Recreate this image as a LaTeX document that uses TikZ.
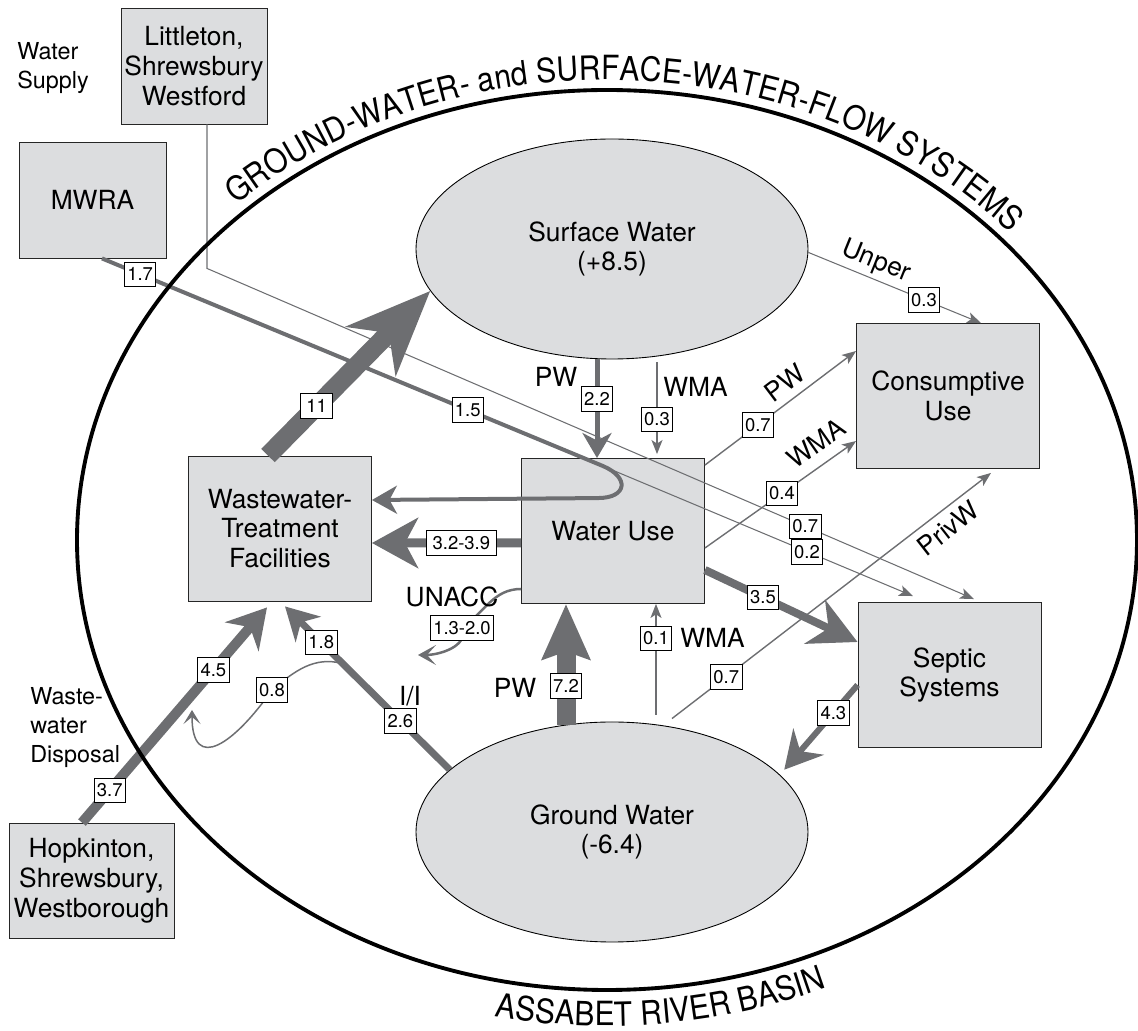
\documentclass[tikz,border=0pt]{standalone}
\usepackage{fontspec}
\setmainfont{TeX Gyre Heros}
\newfontfamily\arcfont[FakeStretch=0.9]{TeX Gyre Heros}
\usetikzlibrary{arrows.meta,shapes.geometric,decorations.text}
\definecolor{flowgray}{HTML}{6D6E71}
\definecolor{boxgray}{HTML}{DCDDDF}

\begin{document}
\begin{tikzpicture}[x=0.2mm, y=0.2mm,
	every node/.style={inner sep=0pt, font=\fontsize{15}{17}\selectfont},
	box/.style={draw=black!85, fill=boxgray, line width=0.5pt, align=center, minimum width=36.6mm, minimum height=29mm},
	pool/.style={ellipse, draw=black, fill=boxgray, line width=0.5pt, align=center, minimum width=78.4mm, minimum height=44mm},
	val/.style={draw=black, fill=white, line width=0.45pt, inner xsep=1.6pt, minimum width=18pt, minimum height=14pt, font=\fontsize{10.5}{12}\selectfont},
	side/.style={anchor=west, align=left, font=\fontsize{13.3}{16.5}\selectfont},
	flow/.style n args={4}{draw=flowgray, line width=#1, -{Stealth[length=#2, width=#3, inset=#4]}},
	minor/.style={draw=flowgray, line width=0.8pt, -{Stealth[length=2.8mm, width=2.2mm, inset=0.7mm]}},
	wig/.style={draw=flowgray, line width=0.5mm, -{Stealth[length=3.6mm, width=4mm, inset=1.8mm]}},
	eddy/.style={draw=flowgray, line width=0.3mm, -{Stealth[length=2.8mm, width=3.4mm, inset=1.4mm]}}]
	\useasboundingbox (0,0) rectangle (1138,-1031);

	\node [pool] (sw) at (612,-249) {Surface Water\\(+8.5)};
	\node [pool] (gw) at (612,-832) {Ground Water\\(-6.4)};
	\node [box] (wwtf) at (280,-528.5) {Wastewater-\\Treatment\\Facilities};
	\node [box] (wuse) at (613,-531) {Water Use};
	\node [box] (cons) at (948,-396) {Consumptive\\Use};
	\node [box] (septic) at (949.5,-675) {Septic\\Systems};
	\node [box, minimum width=29.2mm, minimum height=23.2mm] (lit) at (194,-66) {Littleton,\\Shrewsbury\\Westford};
	\node [box, minimum width=29.4mm, minimum height=23.2mm] (mwra) at (92.5,-200) {MWRA};
	\node [box, minimum width=33mm, minimum height=23mm] (hop) at (91.5,-880.5) {Hopkinton,\\Shrewsbury,\\Westborough};

	\draw [flow={3.8mm}{16.8mm}{13.8mm}{5mm}] ([xshift=-2.4mm]wwtf.north) -- node [val, pos=.3] (v11) {11} (sw.193);
	\draw [flow={1mm}{5mm}{5.8mm}{1.5mm}] ([xshift=-3mm]sw.south) -- node [val, pos=.4] (v22) {2.2} ([xshift=-3.2mm]wuse.north);
	\draw [minor] ([xshift=9mm, yshift=-0.6mm]sw.south) -- node [val, pos=.62] (v03) {0.3} ([xshift=8.8mm, yshift=0.8mm]wuse.north);
	\draw [minor, line width=0.6pt] (sw.-1) -- node [val, pos=.67] (v03u) {0.3} ([xshift=6.6mm]cons.north);
	\draw [minor] ([yshift=-1.4mm]wuse.north east) -- node [val, pos=.35] (v07p) {0.7} ([yshift=9mm]cons.west);
	\draw [minor] ([yshift=-3.4mm]wuse.east) -- node [val, pos=.51] (v04) {0.4} ([yshift=-9mm]cons.west);
	\draw [minor] ([xshift=12mm, yshift=0.6mm]gw.north) -- node [val, pos=.17] (v07g) {0.7} ([xshift=8.6mm, yshift=-0.8mm]cons.south);
	\draw [minor] ([xshift=8.8mm, yshift=1.4mm]gw.north) -- node [val, pos=.69] (v01) {0.1} ([xshift=8.6mm]wuse.south);
	\draw [flow={3.8mm}{11mm}{9.4mm}{1.5mm}] ([xshift=-9.2mm, yshift=-0.6mm]gw.north) -- node [val, pos=.32] (v72) {7.2} ([xshift=-9.4mm]wuse.south);
	\draw [flow={1.6mm}{9.4mm}{9.6mm}{3mm}] ([yshift=-7.8mm]wuse.east) -- node [val, pos=.38] (v35) {3.5} ([yshift=6.6mm]septic.west);
	\draw [flow={1.2mm}{7.4mm}{8mm}{2.5mm}] ([yshift=-2mm]septic.west) -- node [val, pos=.33] (v43) {4.3} ([xshift=2mm]gw.21);
	\draw [flow={1.8mm}{9.2mm}{10mm}{2.6mm}] ([yshift=-2.4mm]wuse.west) -- node [val, pos=.4, minimum width=14mm] (v32) {3.2-3.9} ([yshift=-2.9mm]wwtf.east);
	\draw [flow={0.8mm}{5mm}{5.6mm}{1.5mm}] ([xshift=1.9mm]mwra.south) -- node [val, pos=.076] (v17) {1.7} node [val, pos=.73] (v15) {1.5} ([xshift=-2mm, yshift=-1.6mm]wuse.north) to [out=-23, in=0, looseness=2.3] ([xshift=-3mm, yshift=-8mm]wuse.north) -- ([yshift=5.7mm]wwtf.east);
	\draw [minor, line width=0.6pt] ([xshift=-0.6mm, yshift=-2.2mm]wuse.north) -- node [val, pos=.65] (v02) {0.2} ([xshift=-7.3mm, yshift=1.2mm]septic.north);
	\draw [minor, line width=0.6pt] ([xshift=2.6mm]lit.south) -- ++(0,-144) -- node [val, pos=.78] (v07l) {0.7} ([xshift=4.9mm, yshift=0.6mm]septic.north);
	\draw [flow={1.4mm}{6.5mm}{7.1mm}{2mm}] (gw.159) -- node [val, pos=.3] (v26) {2.6} coordinate [pos=.65] (iimid) node [val, pos=.78] (v18) {1.8} ([xshift=1mm, yshift=-1mm]wwtf.south);
	\draw [flow={2mm}{7.7mm}{8.8mm}{2.5mm}] ([xshift=-1.9mm]hop.north) -- node [val, pos=.15] (v37) {3.7} node [val, pos=.71] (v45) {4.5} ([xshift=-2.6mm, yshift=-1.2mm]wwtf.south);

	\coordinate (umid) at (462,-628);
	\coordinate (utip) at (418,-655);
	\draw [wig] ([yshift=-11.6mm]wuse.west) to [out=180, in=35] (umid) node [val] (v13) {1.3-2.0} to [out=-70, in=0] (utip);
	\coordinate (lmid) at (272,-690);
	\coordinate (ltip) at (192,-710);
	\draw [eddy] (iimid) to [out=165, in=40] (lmid) node [val] (v08) {0.8} to [out=-125, in=-90, looseness=2] (ltip);

	\node (pw22) at (556,-377) {PW};
	\node [anchor=west] (wma03) at (663,-387) {WMA};
	\node [rotate=-22] (unper) at (876,-262) {Unper};
	\node [rotate=37] (pw07) at (785,-383) {PW};
	\node [rotate=35] (wma04) at (816,-443) {WMA};
	\node [rotate=38] (privw) at (948,-528) {PrivW};
	\node (tunacc) at (452,-597) {UNACC};
	\node [anchor=west] (wma01) at (680,-638) {WMA};
	\node (pw72) at (515,-688) {PW};
	\node (ii) at (410,-696) {I/I};
	\node [side] (supply) at (17,-68) {Water\\Supply};
	\node [side] (disposal) at (30,-728) {Waste-\\water\\Disposal};

	\draw [line width=2.2pt] (607,-540) ellipse [x radius=530, y radius=450];
	\path [decorate, decoration={text along path, text align=center, text={|\arcfont\fontsize{19}{19}\selectfont|GROUND-WATER- and SURFACE-WATER-FLOW SYSTEMS}}] (607,-540) ++(140:542 and 460) arc [start angle=140, end angle=35, x radius=542, y radius=460];
	\path [decorate, decoration={text along path, text align=center, text={|\arcfont\fontsize{19}{19}\selectfont|ASSABET RIVER BASIN}}] (607,-540) ++(252:566 and 486) arc [start angle=252, end angle=299.6, x radius=566, y radius=486];
\end{tikzpicture}
\end{document}
